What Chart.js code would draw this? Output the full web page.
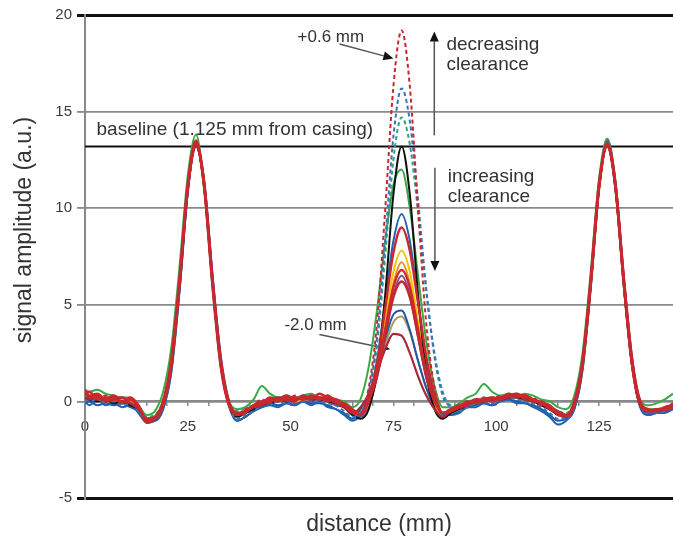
<!DOCTYPE html>
<html lang="en">
<head>
<meta charset="UTF-8">
<title>Signal amplitude vs distance</title>
<script src="https://cdn.jsdelivr.net/npm/chart.js"></script>
<style>
  html, body { margin: 0; padding: 0; background: #fff; }
  #wrap { width: 673px; height: 538px; }
</style>
</head>
<body>
<div id="wrap"><canvas id="signalChart" width="673" height="538"></canvas></div>
<script>
// scan positions (mm)
const distance = [0, 1, 3, 5, 7, 9, 11, 13, 15, 17, 19, 21, 23, 25, 27, 29, 31, 33, 35, 37,
  39, 41, 43, 45, 47, 49, 51, 53, 55, 57, 59, 61, 63, 65, 67, 69, 71, 73, 75, 77, 79, 81, 83, 85, 87,
  89, 91, 93, 95, 97, 99, 101, 103, 105, 107, 109, 111, 113, 115, 117, 119, 121, 123, 125, 127, 129,
  131, 133, 135, 137, 139, 141, 143];

const baselineLevel = 13.2;

// one trace per clearance setting (signal amplitude, a.u.)
const redDash = [0.4, 0.5, 0.2, 0.3, 0.0, 0.2, -0.1, -0.4, -1.0,
  -0.8, -0.1, 2.1, 6.3, 11.2, 13.3, 11.1, 6.1, 1.9, -0.2, -0.7,
  -0.4, -0.2, 0.1, -0.1, 0.2, 0.0, 0.3, 0.1, 0.3, 0.2, 0.2, -0.1, -0.2, -0.6,
  -0.6, 0.7, 4.0, 9.9, 16.3, 19.2, 16.3, 9.9, 4.0, 0.7, -0.6,
  -0.4, -0.4, 0.0, -0.1, 0.2, 0.1, 0.3, 0.2, 0.4, 0.1, 0.2, -0.2, -0.3, -0.7,
  -0.8, -0.1, 2.0, 6.3, 11.2, 13.3, 11.0, 6.1, 1.9, -0.2, -0.5,
  -0.4, -0.5, -0.2];
const red1 = [0.6, 0.3, 0.4, 0.1, 0.3, 0.0, 0.1, -0.3, -1.1,
  -0.9, -0.2, 1.8, 6.0, 11.0, 13.4, 11.3, 6.4, 2.2, 0.0, -0.6,
  -0.5, -0.2, -0.1, 0.2, 0.1, 0.3, 0.1, 0.2, 0.1, 0.4, 0.2, 0.1, -0.2, -0.5,
  -0.7, 0.1, 1.9, 4.8, 7.7, 9.0, 7.8, 5.1, 2.3, 0.4, -0.6,
  -0.4, -0.2, -0.1, 0.1, 0.0, 0.2, 0.1, 0.4, 0.3, 0.3, 0.0, 0.0, -0.3, -0.5,
  -0.7, 0.0, 2.1, 6.4, 11.3, 13.2, 11.2, 6.4, 2.2, 0.0, -0.4,
  -0.5, -0.3, -0.2];
const red2 = [0.3, 0.5, 0.1, 0.2, 0.2, -0.1, 0.2, -0.2, -1.0,
  -0.8, 0.0, 2.2, 6.4, 11.3, 13.5, 11.0, 6.0, 1.8, -0.2, -0.7,
  -0.6, -0.2, 0.0, 0.1, 0.0, 0.2, 0.2, 0.1, 0.3, 0.1, 0.3, 0.0, -0.1, -0.4,
  -0.7, 0.1, 1.5, 3.7, 5.9, 6.8, 5.9, 3.7, 1.5, 0.1, -0.6,
  -0.5, -0.3, 0.0, -0.1, 0.1, 0.2, 0.1, 0.3, 0.2, 0.3, 0.1, -0.1, -0.2, -0.6,
  -0.8, -0.2, 1.8, 6.0, 11.0, 13.4, 11.3, 6.5, 2.3, 0.0, -0.5,
  -0.4, -0.4, -0.1];
const red3 = [0.5, 0.2, 0.3, 0.0, 0.1, 0.2, -0.1, -0.3, -0.9,
  -0.9, -0.1, 2.0, 6.2, 11.1, 13.3, 11.2, 6.3, 2.1, -0.1, -0.7,
  -0.5, -0.3, -0.1, 0.0, 0.2, 0.1, 0.0, 0.3, 0.2, 0.2, 0.0, 0.1, -0.2, -0.6,
  -0.7, 0.0, 1.3, 3.4, 5.4, 6.2, 5.4, 3.4, 1.3, 0.0, -0.6,
  -0.5, -0.3, -0.2, 0.1, 0.1, 0.0, 0.2, 0.3, 0.4, 0.2, 0.1, -0.1, -0.4, -0.6,
  -0.8, -0.1, 2.1, 6.2, 11.1, 13.3, 11.1, 6.2, 2.0, -0.1, -0.5,
  -0.5, -0.4, -0.3];
const maroon = [0.2, 0.1, 0.2, 0.0, 0.1, 0.0, -0.1, -0.4, -0.9,
  -0.8, -0.2, 1.9, 6.1, 11.0, 13.2, 11.1, 6.2, 2.0, -0.2, -0.7,
  -0.5, -0.3, -0.2, 0.0, 0.1, 0.0, 0.2, 0.1, 0.2, 0.1, 0.1, -0.1, -0.3, -0.6,
  -0.3, 0.4, 1.5, 2.7, 3.5, 3.4, 2.5, 1.3, 0.3, -0.4, -0.8,
  -0.5, -0.3, -0.1, 0.0, 0.0, 0.1, 0.1, 0.2, 0.3, 0.1, 0.0, -0.1, -0.3, -0.7,
  -0.8, -0.2, 1.9, 6.1, 11.0, 13.2, 11.0, 6.1, 1.9, -0.2, -0.5,
  -0.5, -0.4, -0.2];
const blueDash = [0.1, 0.0, 0.1, -0.1, 0.0, -0.2, -0.1, -0.5, -1.0,
  -0.9, -0.3, 1.7, 5.9, 10.9, 13.2, 11.2, 6.4, 2.2, -0.2, -0.9,
  -0.7, -0.5, -0.2, -0.1, 0.0, -0.1, 0.1, 0.0, 0.1, 0.0, -0.1, -0.2, -0.5, -0.8,
  -0.6, 0.5, 3.3, 8.3, 13.7, 16.2, 14.5, 10.4, 5.8, 2.3, 0.3,
  -0.3, -0.5, -0.3, -0.1, 0.0, -0.1, 0.1, 0.2, 0.1, 0.0, -0.1, -0.3, -0.6, -0.9,
  -0.9, -0.3, 1.8, 6.1, 11.2, 13.5, 11.2, 6.3, 2.0, -0.2, -0.6,
  -0.6, -0.5, -0.3];
const tealDash = [0.4, 0.2, 0.3, 0.1, 0.2, 0.0, 0.1, -0.3, -0.8,
  -0.7, 0.1, 2.3, 6.5, 11.4, 13.5, 11.0, 6.0, 1.9, -0.1, -0.5,
  -0.4, -0.2, 0.0, 0.1, 0.2, 0.2, 0.1, 0.3, 0.2, 0.2, 0.1, 0.0, -0.1, -0.4,
  -0.7, 0.3, 2.9, 7.5, 12.5, 14.7, 13.3, 9.8, 5.7, 2.5, 0.5,
  -0.2, -0.2, 0.0, 0.1, 0.2, 0.1, 0.3, 0.3, 0.2, 0.3, 0.1, 0.0, -0.2, -0.5,
  -0.6, 0.0, 2.2, 6.4, 11.3, 13.4, 11.1, 6.2, 2.0, 0.0, -0.4,
  -0.4, -0.3, -0.1];
const black = [0.2, 0.1, 0.0, 0.1, -0.1, 0.0, -0.2, -0.4, -1.0,
  -0.9, -0.2, 1.9, 6.1, 11.0, 13.3, 11.1, 6.2, 2.0, -0.2, -0.8,
  -0.6, -0.4, -0.1, -0.1, 0.1, 0.0, 0.1, 0.2, 0.1, 0.1, 0.0, -0.1, -0.3, -0.7,
  -0.9, -0.4, 1.5, 5.5, 10.7, 13.2, 10.7, 5.5, 1.5, -0.4, -0.9,
  -0.6, -0.4, -0.2, 0.0, 0.0, 0.1, 0.1, 0.2, 0.2, 0.1, 0.0, -0.2, -0.4, -0.7,
  -0.8, -0.2, 1.9, 6.1, 11.0, 13.3, 11.1, 6.2, 2.0, -0.2, -0.5,
  -0.5, -0.4, -0.2];
const green = [0.6, 0.5, 0.6, 0.4, 0.3, 0.2, 0.2, -0.2, -0.7,
  -0.5, 0.5, 2.8, 7.0, 11.7, 13.8, 11.0, 5.9, 1.8, 0.0, -0.4,
  -0.3, 0.1, 0.8, 0.4, 0.2, 0.3, 0.2, 0.3, 0.4, 0.2, 0.2, 0.1, 0.0, -0.3,
  0.1, 1.8, 4.7, 8.3, 11.2, 12.0, 10.0, 6.5, 3.1, 0.8, -0.3,
  -0.3, -0.1, 0.2, 0.4, 0.9, 0.5, 0.3, 0.4, 0.3, 0.4, 0.3, 0.1, 0.0, -0.3,
  -0.4, 0.3, 2.5, 6.7, 11.5, 13.6, 11.0, 6.0, 1.9, 0.1, -0.2,
  -0.1, 0.1, 0.4];
const blue1 = [0.0, -0.2, 0.1, -0.2, -0.1, -0.3, -0.2, -0.6, -1.1,
  -1.0, -0.4, 1.5, 5.7, 10.8, 13.4, 11.4, 6.6, 2.4, 0.0, -1.0,
  -0.8, -0.5, -0.3, -0.2, -0.3, -0.1, -0.2, 0.0, -0.2, 0.0, -0.3, -0.4, -0.7, -1.0,
  -0.7, 0.2, 2.1, 5.2, 8.3, 9.7, 8.3, 5.2, 2.1, 0.2, -0.7,
  -0.7, -0.6, -0.3, -0.3, -0.1, -0.2, 0.0, 0.1, -0.1, -0.1, -0.3, -0.5, -0.8, -1.2,
  -1.0, -0.4, 1.6, 5.9, 11.0, 13.6, 11.4, 6.5, 2.3, -0.2, -0.7,
  -0.6, -0.6, -0.4];
const yellow = [0.2, 0.3, 0.1, 0.2, 0.0, 0.1, -0.1, -0.4, -1.0,
  -0.9, -0.1, 2.0, 6.2, 11.1, 13.2, 11.1, 6.2, 2.0, -0.1, -0.8,
  -0.6, -0.3, -0.1, 0.0, 0.0, 0.1, 0.0, 0.1, 0.2, 0.1, 0.0, -0.1, -0.3, -0.7,
  -0.7, 0.0, 1.5, 4.1, 6.7, 7.8, 6.7, 4.1, 1.5, 0.0, -0.7,
  -0.6, -0.4, -0.1, 0.0, 0.1, 0.0, 0.2, 0.2, 0.4, 0.1, 0.1, -0.2, -0.3, -0.6,
  -0.8, -0.1, 2.0, 6.2, 11.1, 13.2, 11.1, 6.2, 2.0, -0.1, -0.5,
  -0.5, -0.4, -0.2];
const orange = [0.3, 0.2, 0.0, 0.1, 0.1, 0.0, 0.0, -0.4, -0.9,
  -0.8, 0.0, 2.1, 6.2, 11.1, 13.3, 11.1, 6.2, 2.1, 0.0, -0.7,
  -0.5, -0.3, -0.1, 0.1, 0.1, 0.0, 0.2, 0.1, 0.1, 0.2, 0.1, -0.1, -0.2, -0.6,
  -0.7, -0.1, 1.4, 3.7, 6.1, 7.2, 6.1, 3.7, 1.4, -0.1, -0.7,
  -0.5, -0.3, -0.1, 0.0, 0.1, 0.2, 0.1, 0.3, 0.2, 0.3, 0.1, -0.1, -0.4, -0.6,
  -0.7, -0.1, 2.0, 6.2, 11.1, 13.3, 11.1, 6.2, 2.0, -0.1, -0.4,
  -0.4, -0.3, -0.2];
const purple = [0.1, 0.2, 0.0, 0.1, -0.1, 0.0, -0.1, -0.5, -1.0,
  -0.9, -0.2, 1.9, 6.1, 11.1, 13.3, 11.1, 6.1, 1.9, -0.2, -0.8,
  -0.6, -0.4, -0.2, 0.0, 0.0, 0.1, -0.1, 0.1, 0.0, 0.1, 0.0, -0.2, -0.3, -0.7,
  -0.8, -0.2, 1.2, 3.3, 5.5, 6.5, 5.5, 3.3, 1.2, -0.2, -0.8,
  -0.6, -0.4, -0.2, -0.1, 0.1, 0.0, 0.1, 0.2, 0.2, 0.1, 0.0, -0.2, -0.4, -0.7,
  -0.8, -0.2, 1.9, 6.1, 11.1, 13.3, 11.1, 6.1, 1.9, -0.2, -0.6,
  -0.5, -0.5, -0.3];
const blue2 = [-0.1, 0.0, -0.2, -0.1, -0.2, -0.1, -0.3, -0.5, -1.0,
  -1.0, -0.4, 1.6, 5.8, 10.9, 13.3, 11.3, 6.4, 2.2, -0.2, -1.0,
  -0.8, -0.5, -0.3, -0.1, -0.2, -0.1, -0.2, 0.0, -0.1, -0.1, -0.2, -0.4, -0.6, -0.9,
  -0.4, 0.4, 1.7, 3.2, 4.5, 4.7, 3.7, 2.1, 0.7, -0.3, -0.7,
  -0.7, -0.5, -0.3, -0.2, -0.1, -0.2, 0.0, 0.1, 0.0, -0.1, -0.2, -0.4, -0.7, -1.0,
  -0.9, -0.4, 1.7, 6.0, 11.1, 13.5, 11.3, 6.4, 2.1, -0.3, -0.7,
  -0.6, -0.5, -0.4];
const olive = [0.2, 0.1, 0.1, 0.0, 0.1, 0.0, -0.1, -0.4, -0.9,
  -0.8, -0.1, 2.0, 6.2, 11.1, 13.2, 11.1, 6.2, 2.0, -0.1, -0.7,
  -0.5, -0.3, -0.1, 0.0, 0.1, 0.1, 0.1, 0.2, 0.1, 0.2, 0.1, 0.0, -0.2, -0.5,
  -0.5, 0.2, 1.4, 2.9, 4.1, 4.4, 3.6, 2.1, 0.7, -0.2, -0.7,
  -0.5, -0.3, -0.1, 0.0, 0.1, 0.1, 0.2, 0.2, 0.3, 0.2, 0.1, -0.1, -0.3, -0.6,
  -0.7, -0.1, 2.0, 6.2, 11.1, 13.3, 11.1, 6.2, 2.0, -0.1, -0.5,
  -0.5, -0.4, -0.2];

// first entry is drawn on top
const traces = [
  { values: redDash, color: '#c8282e', dash: [4, 3] },
  { values: red1, color: '#c8282e', width: 2.5 },
  { values: red2, color: '#cc2a2a', width: 2.5 },
  { values: red3, color: '#c42632', width: 2.5 },
  { values: maroon, color: '#a8283a', width: 2.2 },
  { values: blueDash, color: '#3a72bd', dash: [4, 3] },
  { values: tealDash, color: '#35a07e', dash: [4, 3] },
  { values: black, color: '#111111' },
  { values: green, color: '#3aaa48' },
  { values: blue1, color: '#1f63b0' },
  { values: yellow, color: '#f3c300' },
  { values: orange, color: '#f08c1c' },
  { values: purple, color: '#7a4a9c' },
  { values: blue2, color: '#1d5aa6' },
  { values: olive, color: '#a89e62' }
];

// annotation text and arrows, in data units
const notes = [
  { text: 'baseline (1.125 mm from casing)', x: 2.8, y: 14.07, size: 19 },
  { text: '+0.6 mm', x: 51.7, y: 18.83, size: 17 },
  { text: 'decreasing', x: 87.9, y: 18.47, size: 19 },
  { text: 'clearance', x: 87.9, y: 17.4, size: 19 },
  { text: 'increasing', x: 88.2, y: 11.64, size: 19 },
  { text: 'clearance', x: 88.2, y: 10.57, size: 19 },
  { text: '-2.0 mm', x: 48.5, y: 3.94, size: 17 }
];
const arrows = [
  { from: [61.9, 18.5], to: [75.0, 17.75] },
  { from: [84.95, 13.77], to: [84.95, 19.15] },
  { from: [85.1, 12.09], to: [85.1, 6.75] },
  { from: [57.0, 3.46], to: [74.2, 2.7] }
];
const xTitle = 'distance (mm)';
const yTitle = 'signal amplitude (a.u.)';

const FONT = '"Liberation Sans", Arial, sans-serif';

const annotationPlugin = {
  id: 'notes',
  beforeDatasetsDraw(chart) {
    const { ctx, chartArea, scales: { x, y } } = chart;
    ctx.save();
    ctx.textAlign = 'left';
    ctx.textBaseline = 'middle';
    notes.forEach(n => {
      ctx.fillStyle = '#333';
      ctx.font = n.size + 'px ' + FONT;
      ctx.fillText(n.text, x.getPixelForValue(n.x), y.getPixelForValue(n.y));
    });
    arrows.forEach(a => {
      const x1 = x.getPixelForValue(a.from[0]), y1 = y.getPixelForValue(a.from[1]);
      const x2 = x.getPixelForValue(a.to[0]), y2 = y.getPixelForValue(a.to[1]);
      const ang = Math.atan2(y2 - y1, x2 - x1);
      const head = 10, half = 4.5;
      const bx = x2 - head * Math.cos(ang), by = y2 - head * Math.sin(ang);
      ctx.strokeStyle = '#555';
      ctx.lineWidth = 1.5;
      ctx.beginPath();
      ctx.moveTo(x1, y1);
      ctx.lineTo(bx, by);
      ctx.stroke();
      ctx.fillStyle = '#111';
      ctx.beginPath();
      ctx.moveTo(x2, y2);
      ctx.lineTo(bx + half * Math.sin(ang), by - half * Math.cos(ang));
      ctx.lineTo(bx - half * Math.sin(ang), by + half * Math.cos(ang));
      ctx.closePath();
      ctx.fill();
    });

    // axis titles
    ctx.fillStyle = '#333';
    ctx.font = '23px ' + FONT;
    ctx.textAlign = 'center';
    ctx.fillText(xTitle, (chartArea.left + chartArea.right) / 2, chartArea.bottom + 27);
    ctx.translate(25, chartArea.top + 215);
    ctx.rotate(-Math.PI / 2);
    ctx.fillText(yTitle, 0, 0);
    ctx.restore();
  }
};

const datasets = traces.map(t => ({
  data: t.values.map((v, i) => ({ x: distance[i], y: v })),
  borderColor: t.color,
  borderWidth: t.width || 2,
  borderDash: t.dash || [],
  pointRadius: 0,
  cubicInterpolationMode: 'monotone',
  fill: false
}));
datasets.push({
  data: [{ x: 0, y: baselineLevel }, { x: 143, y: baselineLevel }],
  borderColor: '#111',
  borderWidth: 2,
  pointRadius: 0,
  fill: false
});

new Chart(document.getElementById('signalChart'), {
  type: 'line',
  data: { datasets: datasets },
  options: {
    responsive: false,
    animation: false,
    layout: { autoPadding: false, padding: { top: 15, right: 0, left: 0, bottom: 40 } },
    plugins: {
      legend: { display: false },
      tooltip: { enabled: false }
    },
    scales: {
      x: {
        type: 'linear',
        position: { y: 0 },
        min: 0,
        max: 143,
        afterFit: s => { s.paddingLeft = 0; s.paddingRight = 0; },
        grid: { drawOnChartArea: false, drawTicks: true, tickLength: 4, color: '#888', lineWidth: 1.5 },
        border: { display: true, color: '#888', width: 2 },
        ticks: {
          stepSize: 5,
          autoSkip: false,
          maxRotation: 0,
          padding: 12,
          color: '#3a3a3a',
          font: { family: FONT, size: 15 },
          callback: v => (v % 25 === 0 ? v : '')
        }
      },
      y: {
        min: -5,
        max: 20,
        afterFit: s => { s.width = 85; },
        grid: {
          color: c => (c.tick && (c.tick.value === 20 || c.tick.value === -5) ? '#111' : '#8a8a8a'),
          lineWidth: c => (c.tick && (c.tick.value === 20 || c.tick.value === -5) ? 3 : 1.8),
          tickLength: 8
        },
        border: { display: true, color: '#888', width: 2 },
        ticks: { stepSize: 5, padding: 5, color: '#3a3a3a', font: { family: FONT, size: 15 } }
      }
    }
  },
  plugins: [annotationPlugin]
});
</script>
</body>
</html>
